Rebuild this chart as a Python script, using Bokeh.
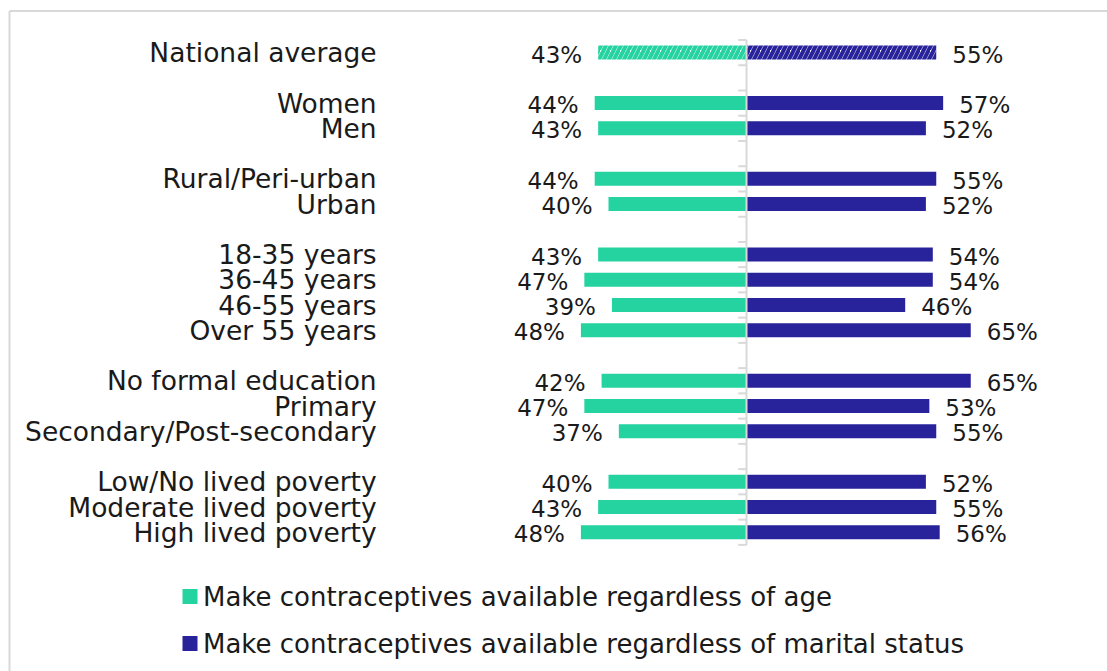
from bokeh.plotting import figure
from bokeh.models import Range1d, ColumnDataSource
from bokeh.core.properties import value
from bokeh.embed import file_html
from bokeh.resources import INLINE

# ---- data ----
categories = ["National average", "Women", "Men", "Rural/Peri-urban", "Urban",
              "18-35 years", "36-45 years", "46-55 years", "Over 55 years",
              "No formal education", "Primary", "Secondary/Post-secondary",
              "Low/No lived poverty", "Moderate lived poverty", "High lived poverty"]
group_sizes = [1, 2, 2, 4, 3, 3]
regardless_age = [43, 44, 43, 44, 40, 43, 47, 39, 48, 42, 47, 37, 40, 43, 48]
regardless_marital = [55, 57, 52, 55, 52, 54, 54, 46, 65, 65, 53, 55, 52, 55, 56]
series_names = ["Make contraceptives available regardless of age",
                "Make contraceptives available regardless of marital status"]

GREEN = "#24D3A0"
NAVY = "#28239B"
TEXT = "#1a1a1a"
GRID = "#d9d9d9"
FONT = "DejaVu Sans"

# row positions: one blank row between groups
rows = []
r = 0
for g in group_sizes:
    for _ in range(g):
        rows.append(r)
        r += 1
    r += 1

W, H = 1107, 671
CX, PXU = 746.0, 3.45        # centre pixel, px per percent
RY0, PXR = 52.0, 25.25       # first row pixel, px per row

p = figure(width=W, height=H, output_backend="svg", toolbar_location=None,
           x_range=Range1d(-CX / PXU, (W - CX) / PXU),
           y_range=Range1d((H - RY0) / PXR, -RY0 / PXR),
           min_border=0, min_border_left=0, min_border_right=0,
           min_border_top=0, min_border_bottom=0)
p.axis.visible = False
p.grid.visible = False
p.outline_line_color = None
p.background_fill_color = "white"
p.border_fill_color = "white"

# outer frame (top and left edges visible)
x_frame = (9 - CX) / PXU
y_frame = (10.5 - RY0) / PXR
p.segment(x0=[x_frame, x_frame], y0=[y_frame, y_frame],
          x1=[(W + 5 - CX) / PXU, x_frame], y1=[y_frame, (H + 5 - RY0) / PXR],
          line_color=GRID, line_width=2)

src = ColumnDataSource(dict(
    y=rows[1:], cat=categories[1:],
    age=regardless_age[1:], mar=regardless_marital[1:],
    neg_age=[-v for v in regardless_age[1:]],
    age_lbl=[f"{v}%" for v in regardless_age[1:]],
    mar_lbl=[f"{v}%" for v in regardless_marital[1:]],
))
nat = ColumnDataSource(dict(
    y=rows[:1], cat=categories[:1],
    age=regardless_age[:1], mar=regardless_marital[:1],
    neg_age=[-v for v in regardless_age[:1]],
    age_lbl=[f"{v}%" for v in regardless_age[:1]],
    mar_lbl=[f"{v}%" for v in regardless_marital[:1]],
))

BH = 0.55
p.hbar(y="y", left="neg_age", right=0, height=BH, source=src,
       fill_color=GREEN, line_color=None)
p.hbar(y="y", left=0, right="mar", height=BH, source=src,
       fill_color=NAVY, line_color=None)
p.hbar(y="y", left="neg_age", right=0, height=BH, source=nat,
       fill_color="white", line_color=None, hatch_pattern="/",
       hatch_color=GREEN, hatch_scale=10, hatch_weight=4)
p.hbar(y="y", left=0, right="mar", height=BH, source=nat,
       fill_color="white", line_color=None, hatch_pattern="/",
       hatch_color=NAVY, hatch_scale=10, hatch_weight=4)

# centre axis with ticks at row boundaries
n_rows = rows[-1]
bounds = [b - 0.5 for b in range(n_rows + 2)]
p.segment(x0=[-2.4] * len(bounds), y0=bounds, x1=[0] * len(bounds), y1=bounds,
          line_color=GRID, line_width=2)
p.segment(x0=[0], y0=[bounds[0]], x1=[0], y1=[bounds[-1]],
          line_color=GRID, line_width=2)

FS = "26.5px"
for s in (src, nat):
    p.text(x=-107.2, y="y", text="cat", source=s, text_align="right",
           text_baseline="middle", text_font=value(FONT), text_font_size=FS,
           text_color=TEXT, y_offset=0)
    p.text(x="neg_age", y="y", text="age_lbl", source=s, text_align="right",
           text_baseline="middle", text_font=value(FONT), text_font_size="23px",
           text_color=TEXT, x_offset=-16, y_offset=2)
    p.text(x="mar", y="y", text="mar_lbl", source=s, text_align="left",
           text_baseline="middle", text_font=value(FONT), text_font_size="23px",
           text_color=TEXT, x_offset=16, y_offset=2)

# legend
leg_y = [(596 - RY0) / PXR, (643 - RY0) / PXR]
leg_x = (189.5 - CX) / PXU
p.scatter(x=[leg_x, leg_x], y=leg_y, marker="square", size=15,
          fill_color=[GREEN, NAVY], line_color=None)
p.text(x=[leg_x, leg_x], y=leg_y, text=series_names, x_offset=13,
       text_align="left", text_baseline="middle", text_font=value(FONT),
       text_font_size="26px", text_color=TEXT, y_offset=0)

open("out.html", "w").write(file_html(p, INLINE))
